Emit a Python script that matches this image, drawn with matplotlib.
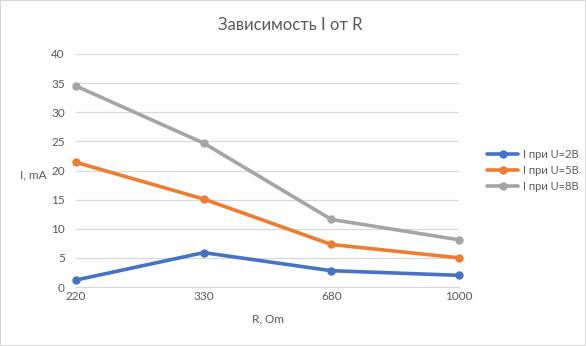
import matplotlib as mpl
mpl.use('Agg')
import matplotlib.pyplot as plt
from matplotlib.patches import Rectangle

plt.rcParams['font.family'] = ['Lato', 'DejaVu Sans']

# resistance values (categorical axis) and measured currents, mA
r_labels = ['220', '330', '680', '1000']
i_2v = [1.2, 5.9, 2.8, 2.0]
i_5v = [21.4, 15.1, 7.3, 5.0]
i_8v = [34.5, 24.7, 11.6, 8.1]
series_names = ['I при U=2В', 'I при U=5В', 'I при U=8В']
colors = ['#4472C4', '#ED7D31', '#A5A5A5']

txt = '#595959'
grid = '#D9D9D9'

fig = plt.figure(figsize=(5.86, 3.46), dpi=100)
ax = fig.add_axes([76/586, 1 - 287/346, (459-76)/586, (287-54)/346])

xs = range(len(r_labels))
for vals, name, c in zip([i_2v, i_5v, i_8v], series_names, colors):
    ax.plot(xs, vals, color=c, lw=2.6, marker='o', ms=5, label=name,
            solid_capstyle='round', clip_on=False)

ax.set_xlim(0, len(r_labels) - 1)
ax.set_ylim(0, 40)
ax.set_yticks(range(0, 41, 5))
ax.set_xticks(list(xs))
ax.set_xticklabels(r_labels)
ax.grid(axis='y', color=grid, lw=0.9)
ax.set_axisbelow(True)
for s in ['top', 'right', 'left']:
    ax.spines[s].set_visible(False)
ax.spines['bottom'].set_color(grid)
ax.tick_params(length=0, colors=txt, labelsize=8.5)
ax.tick_params(axis='x', pad=3)
ax.tick_params(axis='y', pad=8)

fig.text(290/586, 1 - 25/346, 'Зависимость I от R', ha='center', va='center',
         fontsize=12, color=txt)
fig.text(33/586, 1 - 175/346, 'I, mA', ha='center', va='center',
         fontsize=8.5, color=txt)
fig.text(268/586, 1 - 319/346, 'R, Om', ha='center', va='center',
         fontsize=8.5, color=txt)

leg = ax.legend(loc='center left', bbox_to_anchor=(477/586, 1 - 170/346),
                bbox_transform=fig.transFigure, frameon=False, fontsize=8,
                handlelength=2.8, labelspacing=0.45, handletextpad=0.4,
                labelcolor=txt)

fig.patches.append(Rectangle((0, 0), 1, 1, transform=fig.transFigure,
                             fill=False, edgecolor=grid, lw=1.5))

fig.savefig('out.png', dpi=100)
